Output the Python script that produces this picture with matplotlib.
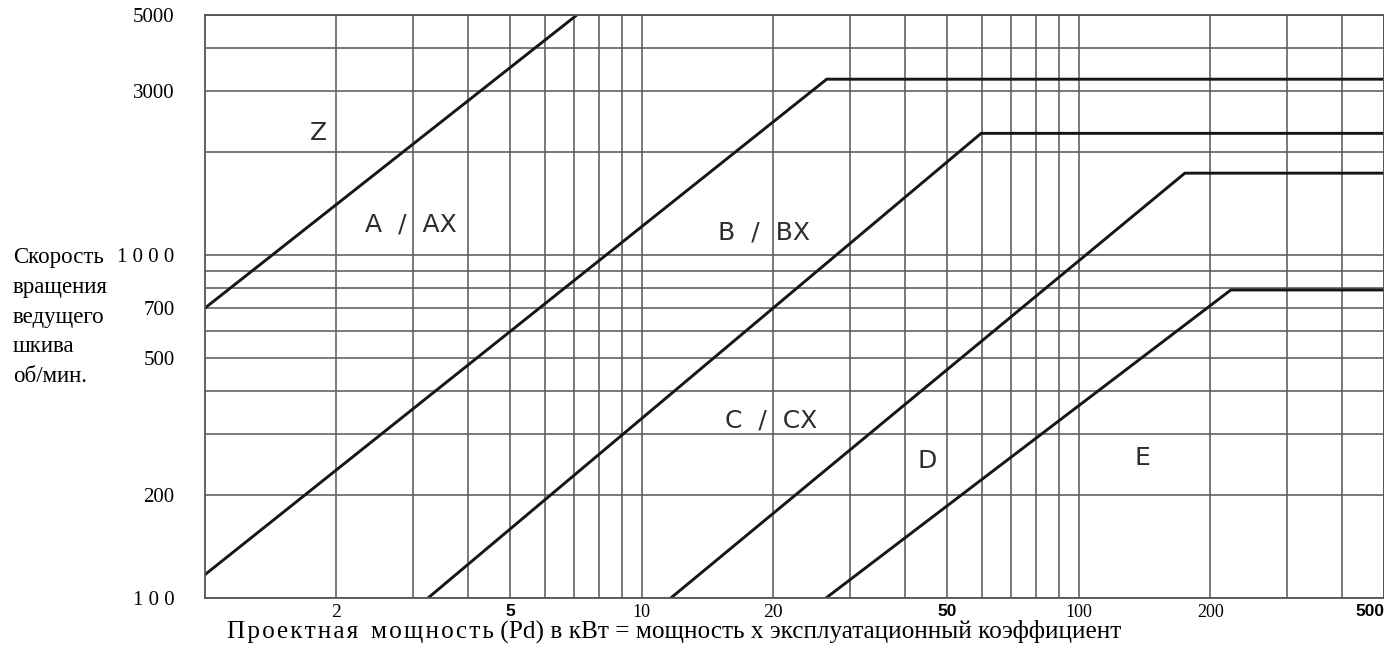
#!/usr/bin/env python
"""Belt section selection chart: driver pulley speed against design power."""

import matplotlib

matplotlib.use("Agg")
import matplotlib.pyplot as plt
from matplotlib.ticker import FixedLocator, LogLocator, NullFormatter

# section boundaries: design power (kW) and driver pulley speed (rpm)
z_power = [1, 7.1]
z_rpm = [700, 5000]
a_power = [1, 26.5, 500]
a_rpm = [117, 3250, 3250]
b_power = [3.24, 59.8, 500]
b_rpm = [100, 2260, 2260]
c_power = [11.65, 175, 500]
c_rpm = [100, 1730, 1730]
d_power = [26.4, 223, 500]
d_rpm = [100, 790, 790]

# belt section names and where they are written
section_names = ["Z", "A  /  AX", "B  /  BX", "C  /  CX", "D", "E"]
section_power = [1.82, 2.96, 19.0, 19.8, 45, 140]
section_rpm = [2270, 1230, 1160, 330, 250, 255]

power_ticks = [2, 5, 10, 20, 50, 100, 200, 500]
power_labels = ["2", "5", "10", "20", "50", "100", "200", "500"]
rpm_ticks = [100, 200, 500, 700, 1000, 3000, 5000]
rpm_labels = ["1 0 0", "200", "500", "700", "1 0 0 0", "3000", "5000"]

SERIF = "Liberation Serif"
SANS = "Liberation Sans"
HAIR = "\u200a"


def spaced(word):
    return HAIR.join(word)


fig = plt.figure(figsize=(13.84, 6.57), dpi=100)
ax = fig.add_axes([205 / 1384, 59 / 657, 1179 / 1384, 583 / 657])
ax.set_xscale("log")
ax.set_yscale("log")
ax.set_xlim(1, 500)
ax.set_ylim(100, 5000)

# full log grid: every integer multiple in each decade
for axis, ticks in ((ax.xaxis, power_ticks), (ax.yaxis, rpm_ticks)):
    axis.set_major_locator(FixedLocator(ticks))
    axis.set_minor_locator(LogLocator(base=10, subs=range(2, 10)))
    axis.set_minor_formatter(NullFormatter())
ax.set_xticklabels(power_labels)
ax.set_yticklabels(rpm_labels)
ax.grid(True, which="both", color="#626262", linewidth=1.2)
ax.set_axisbelow(True)
ax.tick_params(which="both", length=0)
ax.tick_params(axis="x", pad=4)
ax.tick_params(axis="y", pad=22)

for lbl in ax.get_xticklabels():
    if lbl.get_text() in ("5", "50", "500"):
        lbl.set_fontfamily(SANS)
        lbl.set_fontweight("bold")
        lbl.set_fontsize(12.5)
    else:
        lbl.set_fontfamily(SERIF)
        lbl.set_fontsize(14 if lbl.get_text() in ("2", "20") else 13)
ax.get_xticklabels()[-1].set_horizontalalignment("right")
for lbl in ax.get_yticklabels():
    lbl.set_fontfamily(SERIF)
    lbl.set_fontsize(15)

for side in ax.spines.values():
    side.set_color("#555555")
    side.set_linewidth(1.3)

for power, rpm in ((z_power, z_rpm), (a_power, a_rpm), (b_power, b_rpm),
                   (c_power, c_rpm), (d_power, d_rpm)):
    ax.plot(power, rpm, color="#161616", linewidth=2.1, solid_joinstyle="miter")

for name, p, n in zip(section_names, section_power, section_rpm):
    ax.text(p, n, name, ha="center", va="center", fontsize=18,
            family="DejaVu Sans", color="#2e2e2e")

fig.text(13 / 1384, 1 - 317 / 657, "Скорость\nвращения\nведущего\nшкива\nоб/мин.",
         ha="left", va="center", family=SERIF, fontsize=16.5, linespacing=1.56)

xlabel = (spaced("Проектная") + "  " + spaced("мощность")
          + " (Pd) в кВт = мощность х эксплуатационный коэффициент")
fig.text(674 / 1384, 1 - 631 / 657, xlabel, ha="center", va="center",
         family=SERIF, fontsize=18.2)

fig.savefig("out.png", dpi=100, facecolor="white")
